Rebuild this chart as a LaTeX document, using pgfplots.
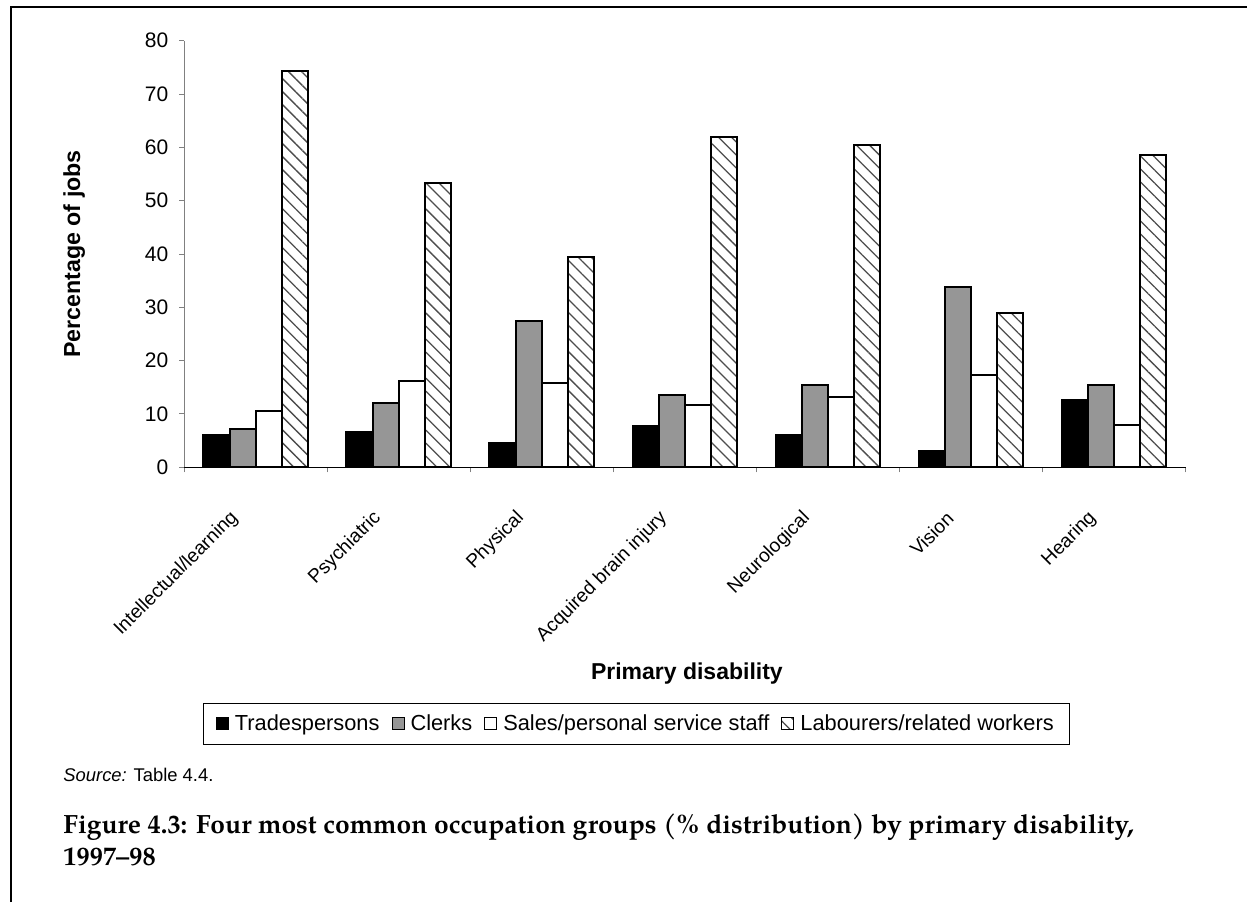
\documentclass[border=0pt]{standalone}
\usepackage{fontspec}
\setmainfont{Liberation Sans}
\newfontfamily\capfont{TeX Gyre Pagella}
\usepackage{pgfplots}
\pgfplotsset{compat=1.18}
\usetikzlibrary{patterns.meta}
\definecolor{clerkgrey}{RGB}{150,150,150}
\pgfplotsset{sqlegend/.style={legend image code/.code={\draw[##1, line width=0.5pt] (0pt,-3pt) rectangle (6pt,3pt);}}}
\begin{document}
\begin{tikzpicture}[x=1pt,y=1pt]
\path[use as bounding box] (0,0) rectangle (623.5,451);
\draw[line width=1pt] (5.25,0) -- (5.25,447.4) -- (624,447.4);
\begin{axis}[
  at={(92.15pt,217.35pt)}, anchor=south west,
  scale only axis, width=500.6pt, height=213.3pt,
  ymin=0, ymax=80, ytick={0,10,...,80},
  xmin=-0.5, xmax=6.5,
  ybar=0pt, bar width=13.1pt,
  axis x line=bottom, axis y line=left, axis line style={-},
  x axis line style={black, line width=0.8pt},
  y axis line style={gray, line width=0.5pt},
  tick align=outside, major tick length=2.5pt,
  tick style={gray, line width=0.5pt},
  xtick={-0.5,0.5,...,6.5}, xticklabels={},
  extra x ticks={0,...,6},
  extra x tick labels={Intellectual/learning, Psychiatric, Physical, Acquired brain injury, Neurological, Vision, Hearing},
  extra x tick style={major tick length=0pt, tick style={draw=none},
     xticklabel style={xshift=-8pt, yshift=-21.5pt, rotate=45, anchor=east, font=\fontsize{9.6}{11}\selectfont}},
  yticklabel style={xshift=-2pt, font=\fontsize{10.5}{12}\selectfont},
  /pgf/number format/assume math mode=true,
  ylabel={Percentage of jobs},
  every axis y label/.style={at={(axis description cs:-0.110,0.5)}, rotate=90, anchor=center, font=\fontsize{11.6}{13}\selectfont\bfseries},
  xlabel={Primary disability},
  every axis x label/.style={at={(axis description cs:0.502,-0.4845)}, anchor=center, font=\fontsize{11.5}{13}\selectfont\bfseries},
  legend columns=4,
  legend style={at={(axis description cs:0.452,-0.6017)}, anchor=center,
     draw=black, line width=0.5pt, font=\fontsize{10.9}{12}\selectfont,
     inner xsep=6pt, inner ysep=3.5pt,
     nodes={inner sep=2pt},
     /tikz/every odd column/.append style={column sep=1pt},
     /tikz/every even column/.append style={column sep=4pt}},
]
\addplot[fill=black, draw=black, line width=1pt, sqlegend] coordinates {(0,6.0) (1,6.6) (2,4.6) (3,7.7) (4,6.1) (5,3.1) (6,12.6)};
\addplot[fill=clerkgrey, draw=black, line width=1pt, sqlegend] coordinates {(0,7.2) (1,12.0) (2,27.5) (3,13.6) (4,15.4) (5,33.9) (6,15.4)};
\addplot[fill=white, draw=black, line width=1pt, sqlegend] coordinates {(0,10.6) (1,16.2) (2,15.9) (3,11.6) (4,13.2) (5,17.3) (6,7.9)};
\addplot[pattern={Lines[angle=-45,distance=4.6pt,line width=0.65pt]}, pattern color=black!70, draw=black, line width=1pt, sqlegend] coordinates {(0,74.3) (1,53.3) (2,39.5) (3,62.0) (4,60.5) (5,29.0) (6,58.6)};
\legend{Tradespersons, Clerks, Sales/personal service staff, Labourers/related workers}
\end{axis}
\node[anchor=west, inner sep=0pt, font=\fontsize{9.2}{11}\selectfont] at (31.5,63.5) {\textit{Source:} Table 4.4.};
\node[anchor=base west, inner sep=0pt, font=\capfont\bfseries\fontsize{13.2}{16}\selectfont] at (31.5,34.5) {Figure 4.3: Four most common occupation groups (\% distribution) by primary disability,};
\node[anchor=base west, inner sep=0pt, font=\capfont\bfseries\fontsize{13.2}{16}\selectfont] at (31.5,18.5) {1997–98};
\end{tikzpicture}
\end{document}
